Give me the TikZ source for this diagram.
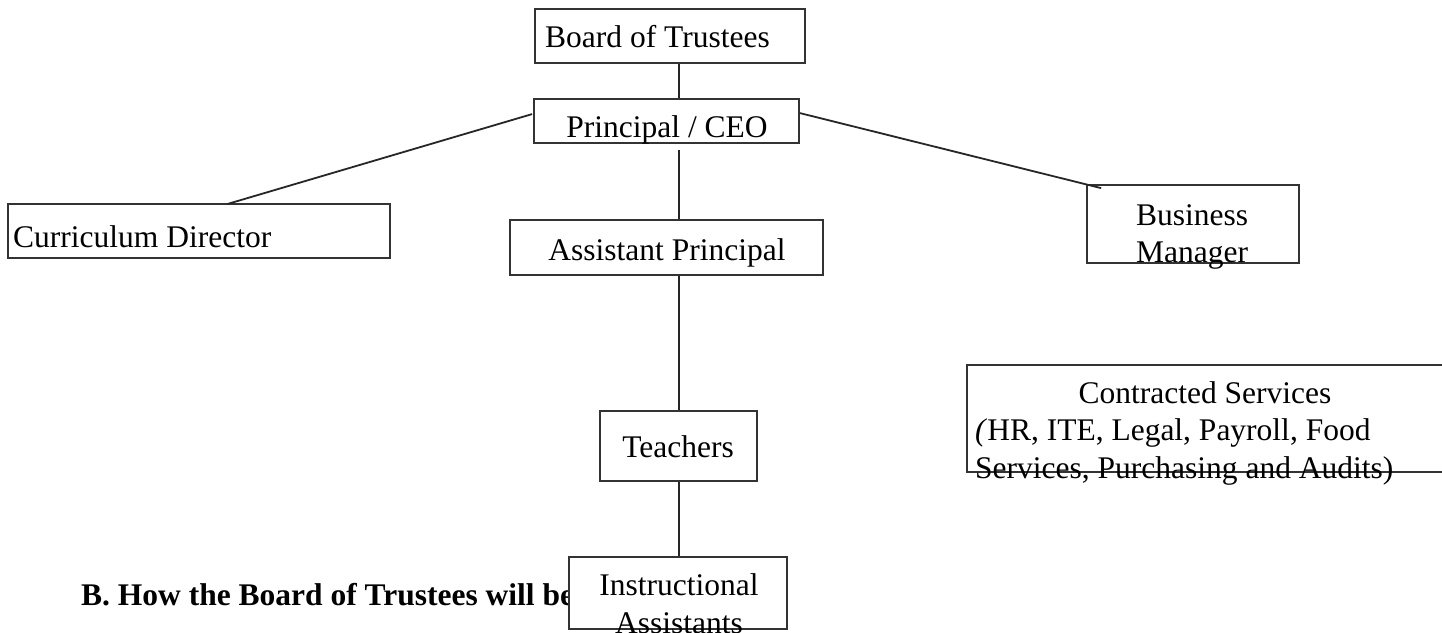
\documentclass[tikz,border=0pt]{standalone}
\usepackage{fontspec}
\setmainfont{Liberation Serif}
\usetikzlibrary{calc}
\tikzset{
    box/.style={draw=black!80, line width=1.8pt, inner sep=0pt},
    lbl/.style={inner sep=0pt, anchor=base},
    link/.style={draw=black!85, line width=1.8pt},
}
\begin{document}
\begin{tikzpicture}[x=1pt, y=-1pt, font=\fontsize{31.5}{37}\selectfont]
        \useasboundingbox (0,0) rectangle (1442,632);
        \coordinate (spine) at (679,0);
        % heading under the chart
        \node[lbl, anchor=base west, name=head] at (81,605) {\bfseries B. How the Board of Trustees will be};
        % boxes
        \node[box, name=bot, minimum width=270, minimum height=54] at (670,36) {};
        \node[box, name=ceo, minimum width=265, minimum height=44] at (666.5,121) {};
        \node[box, name=cd, minimum width=382, minimum height=54] at (199,231) {};
        \node[box, name=ap, minimum width=313, minimum height=55] at (666.5,247.5) {};
        \node[box, name=bm, minimum width=212, minimum height=78] at (1193,224) {};
        \node[box, name=tea, minimum width=157, minimum height=70] at (678.5,446) {};
        \node[box, name=cs, minimum width=503, minimum height=107] at (1218.5,418.5) {};
        \node[box, fill=white, name=ia, minimum width=218, minimum height=72] at (678,593) {};
        % texts
        \node[lbl, anchor=base west, name=bot_t] at (545,47) {Board of Trustees};
        \node[lbl, name=ceo_t] at (667,137) {Principal / CEO};
        \node[lbl, anchor=base west, name=cd_t] at (13,247) {Curriculum Director};
        \node[lbl, name=ap_t] at (667,260) {Assistant Principal};
        \node[lbl, name=bm_t1] at (1192,225) {Business};
        \node[lbl, name=bm_t2] at (1192,262) {Manager};
        \node[lbl, name=tea_t] at (678,457) {Teachers};
        \node[lbl, name=cs_t1] at (1205,403) {Contracted Services};
        \node[lbl, anchor=base west, name=cs_t2] at (975,440) {\textit{(}HR, ITE, Legal, Payroll, Food};
        \node[lbl, anchor=base west, name=cs_t3] at (975,478) {Services, Purchasing and Audits)};
        \node[lbl, name=ia_t1] at (679,595) {Instructional};
        \node[lbl, name=ia_t2] at (679,633) {Assistants};
        % connectors
        \draw[link] (bot.south -| spine) -- (ceo.north -| spine);
        \draw[link] ($(ceo.south -| spine)+(0,6)$) -- (ap.north -| spine);
        \draw[link] (ap.south -| spine) -- (tea.north -| spine);
        \draw[link] (tea.south -| spine) -- (ia.north -| spine);
        \draw[link] ($(ceo.north west)+(-1,16)$) -- ($(cd.north west)+(220,1)$);
        \draw[link] ($(ceo.north east)+(0,15)$) -- ($(bm.north west)+(15,4)$);
        \draw[link, dash pattern=on 6pt off 4pt] ($(bm.south west)+(70,0)$) -- ($(bm.south west)+(70,0)$ |- cs.north);
    \end{tikzpicture}
\end{document}
